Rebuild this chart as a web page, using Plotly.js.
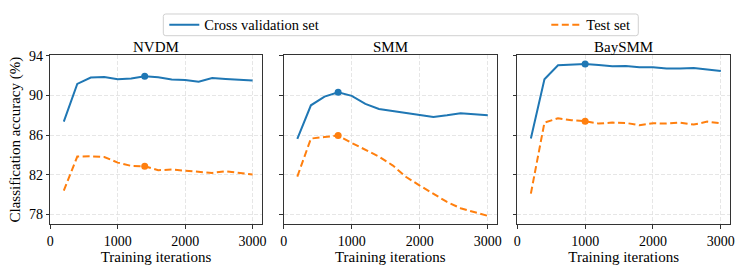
<!DOCTYPE html>
<html>
<head>
<meta charset="utf-8">
<script src="https://cdn.plot.ly/plotly-3.0.1.min.js"></script>
<style>html,body{margin:0;padding:0;background:#fff;}#chart{width:747px;height:272px;}</style>
</head>
<body>
<div id="chart"></div>
<script>
// ---- data ----
const iterations = [200, 400, 600, 800, 1000, 1200, 1400, 1600, 1800, 2000, 2200, 2400, 2600, 2800, 3000];
const models = ["NVDM", "SMM", "BaySMM"];
const nvdmCV   = [87.37, 91.18, 91.82, 91.88, 91.65, 91.72, 91.95, 91.85, 91.62, 91.58, 91.41, 91.78, 91.68, 91.62, 91.52];
const nvdmTest = [80.40, 83.84, 83.87, 83.80, 83.23, 82.90, 82.86, 82.46, 82.53, 82.42, 82.29, 82.19, 82.36, 82.16, 82.02];
const smmCV    = [85.62, 89.02, 89.90, 90.34, 89.97, 89.16, 88.65, 88.45, 88.28, 88.11, 87.85, 88.01, 88.22, 88.11, 88.01];
const smmTest  = [81.82, 85.66, 85.82, 85.96, 85.22, 84.51, 83.84, 82.96, 81.78, 80.91, 80.07, 79.26, 78.62, 78.25, 77.85];
const baysmmCV   = [85.66, 91.65, 93.06, 93.10, 93.20, 93.10, 92.96, 93.00, 92.86, 92.86, 92.73, 92.73, 92.79, 92.63, 92.49];
const baysmmTest = [80.10, 87.27, 87.71, 87.51, 87.41, 87.17, 87.27, 87.24, 87.00, 87.21, 87.17, 87.27, 87.07, 87.37, 87.21];
const seriesNames = ["Cross validation set", "Test set"];
const xTicks = [0, 1000, 2000, 3000];
const yTicks = [78, 82, 86, 90, 94];
const xLabel = "Training iterations";
const yLabel = "Classification accuracy (%)";

// ---- styles ----
const BLUE = "#1f77b4", ORANGE = "#ff7f0e";
const FONT = "Liberation Serif, Times New Roman, serif";
const W = 747, H = 272;
const xDomains = [[50.3, 261.7], [283.7, 497], [517.3, 730]];
const yDom = [1 - 224.3 / H, 1 - 55 / H];
const legBox = {x0: 163.3, x1: 638.3, y0: 14, y1: 35.7};

const cvData = [nvdmCV, smmCV, baysmmCV];
const testData = [nvdmTest, smmTest, baysmmTest];

const traces = [];
const annotations = [];
const legendFont = {family: FONT, size: 14.5, color: "#000"};
const legYc = 1 - (legBox.y0 + legBox.y1) / 2 / H;

// rounded legend frame path in paper coordinates
function roundedRect(x0, x1, y0, y1, r) {
  const px = v => (v / W).toFixed(5), py = v => (1 - v / H).toFixed(5);
  return "M" + px(x0 + r) + "," + py(y0) +
    " L" + px(x1 - r) + "," + py(y0) + " Q" + px(x1) + "," + py(y0) + " " + px(x1) + "," + py(y0 + r) +
    " L" + px(x1) + "," + py(y1 - r) + " Q" + px(x1) + "," + py(y1) + " " + px(x1 - r) + "," + py(y1) +
    " L" + px(x0 + r) + "," + py(y1) + " Q" + px(x0) + "," + py(y1) + " " + px(x0) + "," + py(y1 - r) +
    " L" + px(x0) + "," + py(y0 + r) + " Q" + px(x0) + "," + py(y0) + " " + px(x0 + r) + "," + py(y0) + " Z";
}

const layout = {
  width: W, height: H,
  margin: {l: 0, r: 0, t: 0, b: 0},
  paper_bgcolor: "#fff", plot_bgcolor: "#fff",
  font: {family: FONT, size: 14, color: "#000"},
  showlegend: true,
  legend: {
    orientation: "h", x: (legBox.x0 + 1) / W, y: legYc, xanchor: "left", yanchor: "middle",
    borderwidth: 0, bgcolor: "rgba(0,0,0,0)", font: legendFont, itemwidth: 30
  },
  legend2: {
    orientation: "h", x: (legBox.x1 - 3) / W, y: legYc, xanchor: "right", yanchor: "middle",
    borderwidth: 0, bgcolor: "rgba(0,0,0,0)", font: legendFont, itemwidth: 30
  },
  shapes: [{
    type: "path", xref: "paper", yref: "paper",
    path: roundedRect(legBox.x0, legBox.x1, legBox.y0, legBox.y1, 2.5),
    line: {color: "#d0d0d0", width: 1}, fillcolor: "rgba(255,255,255,0.8)", layer: "below"
  }],
  annotations: annotations
};

models.forEach((m, i) => {
  const ax = i === 0 ? "" : String(i + 1);
  const xa = "x" + ax, ya = "y" + ax;
  const cv = cvData[i], te = testData[i];
  let best = 0;
  cv.forEach((v, k) => { if (v > cv[best]) best = k; });

  traces.push({
    x: iterations, y: cv, xaxis: xa, yaxis: ya, type: "scatter", mode: "lines",
    name: seriesNames[0], legend: "legend", showlegend: i === 0,
    line: {color: BLUE, width: 2}
  });
  traces.push({
    x: iterations, y: te, xaxis: xa, yaxis: ya, type: "scatter", mode: "lines",
    name: seriesNames[1], legend: "legend2", showlegend: i === 0,
    line: {color: ORANGE, width: 2, dash: "7px,3.5px"}
  });
  traces.push({
    x: [iterations[best], iterations[best]], y: [cv[best], te[best]],
    xaxis: xa, yaxis: ya, type: "scatter", mode: "markers", showlegend: false,
    marker: {color: [BLUE, ORANGE], size: 7}
  });

  const common = {
    showline: true, linecolor: "#333", linewidth: 1, mirror: true,
    ticks: "outside", ticklen: 3.5, tickcolor: "#333", tickwidth: 1,
    showgrid: true, gridcolor: "#e0e0e0", griddash: "4px,2px", gridwidth: 0.8,
    zeroline: false, automargin: false,
    tickfont: {family: FONT, size: 14, color: "#000"}
  };
  layout["xaxis" + ax] = Object.assign({
    domain: [xDomains[i][0] / W, xDomains[i][1] / W], anchor: ya,
    range: [0, 3135], tickvals: xTicks, ticktext: xTicks.map(String),
    title: {text: xLabel, font: {family: FONT, size: 15, color: "#000"}, standoff: 0}
  }, common);
  layout["yaxis" + ax] = Object.assign({
    domain: yDom, anchor: xa,
    range: [77.0, 94.1], tickvals: yTicks, ticktext: yTicks.map(String),
    showticklabels: i === 0,
    title: i === 0 ? {text: yLabel, font: {family: FONT, size: 15, color: "#000"}, standoff: 4} : {text: ""}
  }, common);
  annotations.push({
    text: m, xref: "paper", yref: "paper",
    x: (xDomains[i][0] + xDomains[i][1]) / 2 / W, y: 1 - 47 / H,
    xanchor: "center", yanchor: "middle", showarrow: false,
    font: {family: FONT, size: 15, color: "#000"}
  });
});

Plotly.newPlot("chart", traces, layout, {displayModeBar: false, staticPlot: true});
</script>
</body>
</html>
